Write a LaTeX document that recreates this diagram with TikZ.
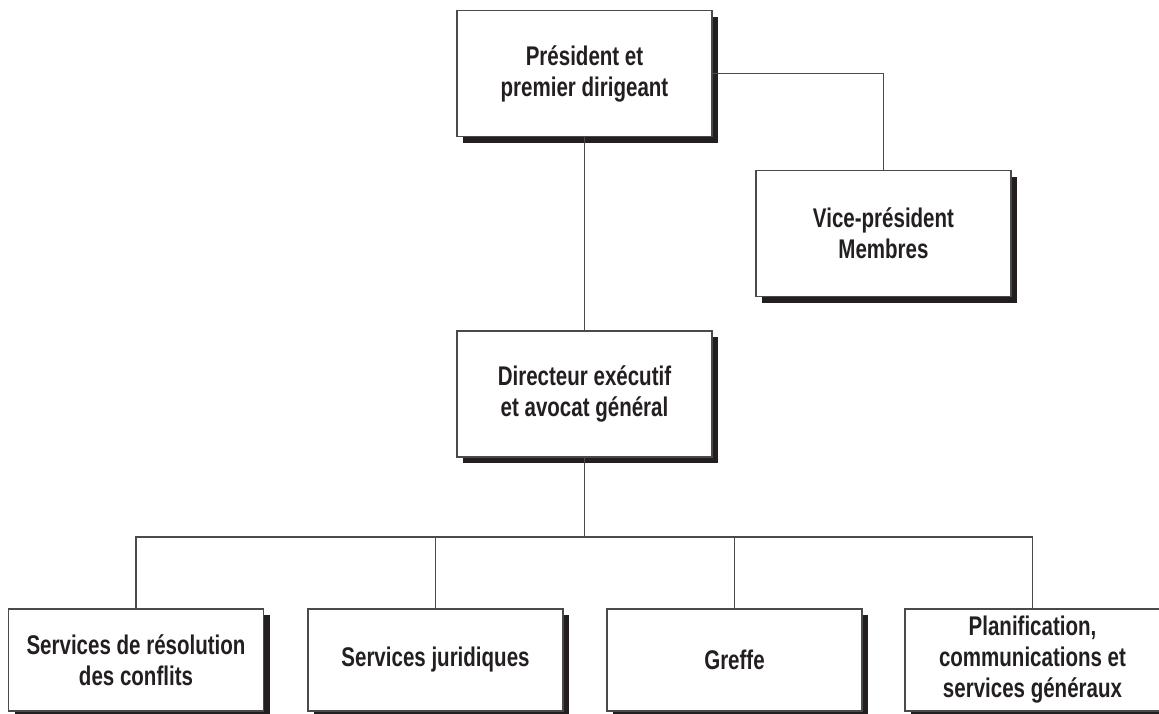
\documentclass[tikz,border=0pt]{standalone}
\usepackage{fontspec}
\usepackage{tikz}
\usetikzlibrary{shadows}
\newfontfamily\orgfont[FakeStretch=0.76]{Liberation Sans}
\definecolor{inkcol}{HTML}{231F20}
\definecolor{edgecol}{HTML}{4A4A4C}

\begin{document}
\begin{tikzpicture}[unit/.style={draw=edgecol, line width=1.6pt, fill=white, minimum width=255pt, minimum height=126pt, inner sep=0pt, align=center, text=inkcol, font=\orgfont\bfseries\fontsize{27}{31}\selectfont, drop shadow={shadow xshift=6pt, shadow yshift=-6pt, fill=inkcol, opacity=1}}, service/.style={unit, minimum height=102pt}, link/.style={draw=edgecol, line width=1.6pt}]
\useasboundingbox (0pt, 0pt) rectangle (1159pt, -713pt);
\draw (584.5pt, -73.5pt)node[unit](0){Président et\\premier dirigeant};
\draw (883.5pt, -233.5pt)node[unit](1){Vice-président\\Membres};
\draw (584.5pt, -394.0pt)node[unit](2){Directeur exécutif\\et avocat général};
\draw (136.0pt, -660.0pt)node[service](3){Services de résolution\\des conflits};
\draw (435.5pt, -660.0pt)node[service](4){Services juridiques};
\draw (734.5pt, -660.0pt)node[service](5){Greffe};
\draw (1032.5pt, -660.0pt)node[service](6){Planification,\\communications et\\services généraux};
\coordinate (bus) at (584.5pt, -537.0pt);
\path[link] (0.east) -| (1.north);
\path[link] (0.south) -- (2.north);
\path[link] (2.south) -- (bus);
\path[link] (3.north) -- (3.north |- bus) -- (6.north |- bus) -- (6.north);
\path[link] (4.north) -- (4.north |- bus);
\path[link] (5.north) -- (5.north |- bus);
\end{tikzpicture}
\end{document}
